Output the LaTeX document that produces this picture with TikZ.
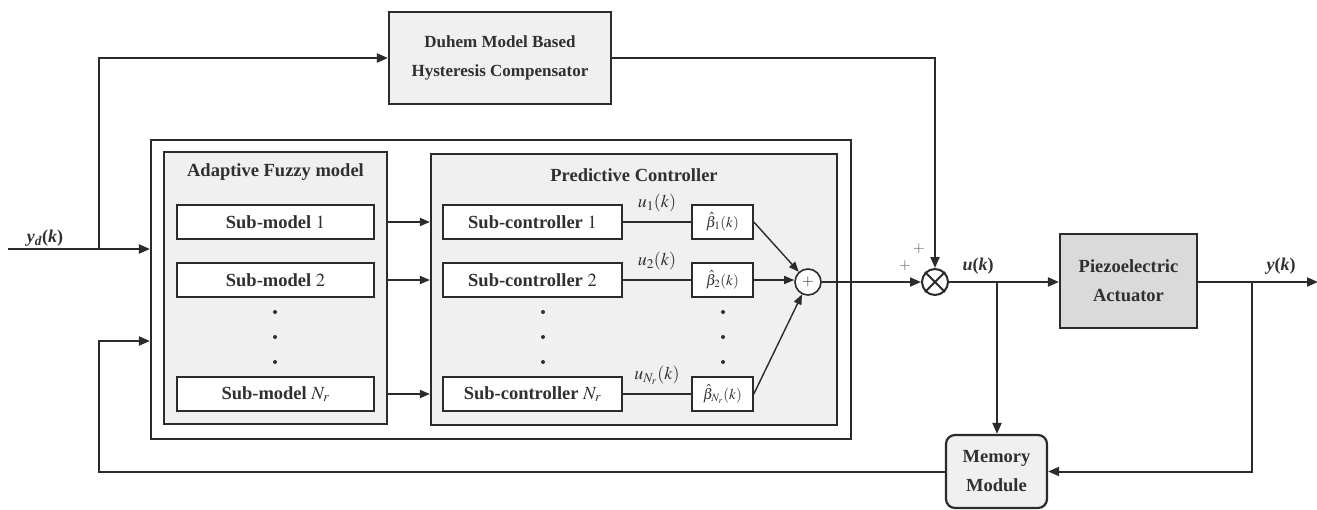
\documentclass[tikz,border=0pt]{standalone}
\usepackage{mathptmx}
\usepackage{fontspec}
\setmainfont{Liberation Serif}
\usetikzlibrary{arrows.meta}
\definecolor{lc}{HTML}{2B2B2B}
\definecolor{tc}{HTML}{303030}
\definecolor{fl}{HTML}{F0F0F0}
\definecolor{pz}{HTML}{DADADA}
\tikzset{
  box/.style={draw=lc, line width=2.2pt, fill=fl, inner sep=0pt, text=tc, align=center,
    font=\bfseries\fontsize{18.5}{29}\selectfont},
  subbox/.style={draw=lc, line width=1.6pt, fill=white, inner sep=0pt, text=tc,
    minimum height=34pt, font=\fontsize{18.5}{20}\selectfont},
  betabox/.style={draw=lc, line width=1.6pt, fill=white, inner sep=0pt, text=tc,
    minimum height=34pt, minimum width=61pt, font=\fontsize{15}{17}\selectfont},
  ttl/.style={text=tc, inner sep=0pt, font=\bfseries\fontsize{18.5}{20}\selectfont},
  mlab/.style={text=tc, inner sep=0pt, font=\fontsize{18}{20}\selectfont},
  vlab/.style={text=tc, inner sep=0pt, font=\fontsize{18}{20}\selectfont},
  plab/.style={text=tc!80, inner sep=0pt, font=\fontsize{15}{17}\selectfont},
  dotn/.style={circle, fill=tc, inner sep=0pt, minimum size=4pt},
  wire/.style={draw=lc, line width=2pt},
  arr/.style={wire, -{Triangle[length=11pt,width=9pt]}},
  thinwire/.style={draw=lc, line width=1.4pt},
  tarr/.style={thinwire, -{Triangle[length=10pt,width=8pt]}},
}
\begin{document}
\begin{tikzpicture}[x=1pt,y=-1pt]
\useasboundingbox (0,0) rectangle (1317,509);

% outer frame and groups
\node[box, fill=white, minimum width=700pt, minimum height=299pt] (outer) at (501,289.5) {};
\node[box, minimum width=223pt, minimum height=272pt] (adapt) at (275.5,288) {};
\node[ttl] (adt) at (275.5,172) {Adaptive Fuzzy model};
\node[box, minimum width=406pt, minimum height=271pt] (pred) at (634,289.5) {};
\node[ttl] (prt) at (634,175) {Predictive Controller};

% sub-models
\node[subbox, minimum width=197pt] (sm1) at (275.5,222) {\textbf{Sub-model} $1$};
\node[subbox, minimum width=197pt] (sm2) at (275.5,280) {\textbf{Sub-model} $2$};
\node[subbox, minimum width=197pt] (smN) at (275.5,394) {\textbf{Sub-model} $N_r$};
\node[dotn] (da1) at (275,312) {};
\node[dotn] (da2) at (275,337) {};
\node[dotn] (da3) at (275,362) {};

% sub-controllers
\node[subbox, minimum width=179pt] (sc1) at (532.5,222) {\textbf{Sub-controller} $1$};
\node[subbox, minimum width=179pt] (sc2) at (532.5,280) {\textbf{Sub-controller} $2$};
\node[subbox, minimum width=179pt] (scN) at (532.5,394) {\textbf{Sub-controller} $N_r$};
\node[dotn] (db1) at (543,312) {};
\node[dotn] (db2) at (543,337) {};
\node[dotn] (db3) at (543,362) {};

% weights
\node[betabox] (b1) at (722.5,222) {$\hat{\beta}_1(k)$};
\node[betabox] (b2) at (722.5,280) {$\hat{\beta}_2(k)$};
\node[betabox] (bN) at (722.5,394) {$\hat{\beta}_{N_r}(k)$};
\node[dotn] (dc1) at (723,312) {};
\node[dotn] (dc2) at (723,337) {};
\node[dotn] (dc3) at (723,362) {};

\node[mlab] (u1) at (657,203) {$u_1(k)$};
\node[mlab] (u2) at (657,261) {$u_2(k)$};
\node[mlab] (uN) at (657,375) {$u_{N_r}(k)$};

% summation
\node[circle, draw=lc, line width=1.6pt, fill=white, minimum size=26pt, inner sep=0pt, text=tc,
  font=\fontsize{15}{17}\selectfont] (sum) at (808,282) {$+$};

% other blocks
\node[box, minimum width=222pt, minimum height=92pt, font=\bfseries\fontsize{17}{29}\selectfont]
  (duhem) at (500,58) {Duhem Model Based\\Hysteresis Compensator};
\node[box, fill=pz, minimum width=137pt, minimum height=94pt] (piezo) at (1128.5,281) {Piezoelectric\\Actuator};
\node[box, rounded corners=9pt, minimum width=101pt, minimum height=73pt] (mem) at (996.5,471.5) {Memory\\Module};

% multiplier-like junction
\node[circle, draw=lc, line width=2pt, fill=white, minimum size=26pt, inner sep=0pt] (ot) at (935,282) {};
\draw[wire] (ot.north west) -- (ot.south east) (ot.north east) -- (ot.south west);

% labels
\node[plab] (p1) at (919,249) {$+$};
\node[plab] (p2) at (905,266) {$+$};
\node[vlab] (ydl) at (45,238) {\textbf{\textit{y}\textsubscript{\textit{d}}(\textit{k})}};
\node[vlab] (ul) at (978,266) {\textbf{\textit{u}(\textit{k})}};
\node[vlab] (yl) at (1281,266) {\textbf{\textit{y}(\textit{k})}};

% coordinates
\coordinate (yin) at (8,249);
\coordinate (j1) at (99,249);
\coordinate (j2) at (99,58);
\coordinate (fb) at (99,341);
\coordinate (ub) at (997,282);
\coordinate (yb) at (1252,282);
\coordinate (yout) at (1318,282);

% connectors
\draw[arr] (yin) -- (yin -| outer.west);
\draw[arr] (j1) -- (j2) -- (duhem.west);
\draw[arr] (duhem.east) -| (ot.north);
\draw[arr] (sum.east) -- (ot.west);
\draw[arr] (ot.east) -- (ot.east -| piezo.west);
\draw[arr] (ub) -- (ub |- mem.north);
\draw[arr] (ot.east -| piezo.east) -- (yout);
\draw[arr] (yb) -- (yb |- mem.east) -- (mem.east);
\draw[arr] (mem.west) -- (mem.west -| j1) -- (fb) -- (fb -| outer.west);

\draw[tarr, line width=1.6pt] (sm1.east -| adapt.east) -- (sm1.east -| pred.west);
\draw[tarr, line width=1.6pt] (sm2.east -| adapt.east) -- (sm2.east -| pred.west);
\draw[tarr, line width=1.6pt] (smN.east -| adapt.east) -- (smN.east -| pred.west);

\draw[thinwire] (sc1.east) -- (b1.west);
\draw[thinwire] (sc2.east) -- (b2.west);
\draw[thinwire] (scN.east) -- (bN.west);
\draw[tarr] (b1.east) -- (sum);
\draw[tarr] (b2.east) -- (b2.east -| sum.west);
\draw[tarr] (bN.east) -- (sum);
\end{tikzpicture}
\end{document}
